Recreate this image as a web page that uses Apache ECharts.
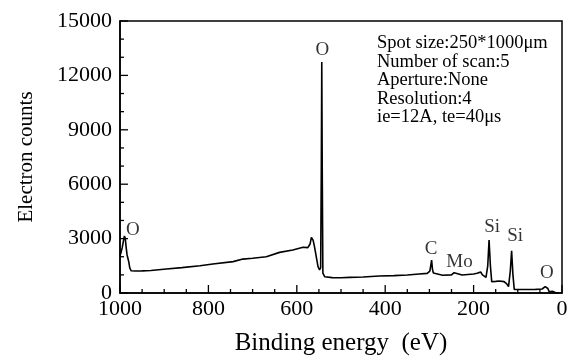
<!DOCTYPE html>
<html><head><meta charset="utf-8">
<script src="https://cdn.jsdelivr.net/npm/echarts@6/dist/echarts.min.js"></script>
<style>html,body{margin:0;padding:0;background:#fff}#c{width:571px;height:358px}</style>
</head><body><div id="c"></div>
<script>
// Binding energy (eV)
const energy = [1000,998,995,992,990,988,986,984,982,980,978,975,965,950,930,895,860,819,790,744,722,700,669,639,609,586,575,570,567,563,560,556,552,548.5,546,544.5,543.5,542.5,541,537,520,500,480,450,413,380,350,323,305,299,297,295,293,291,289,270,250,244,240,226,200,192,184,180,172,168,165,162,159,150,142,131,125,121,117,114,111,108,90,60,45,38,35,32,29,22,18,14,7];
// Electron counts
const counts = [2050,2200,2500,2900,3150,3000,2500,2100,1900,1700,1400,1230,1210,1220,1240,1320,1400,1500,1600,1730,1870,1920,2000,2240,2370,2520,2500,2700,3070,2900,2560,2000,1450,1270,1400,7000,12740,7000,1100,900,850,845,860,880,940,960,990,1050,1080,1200,1500,1820,1300,1100,990,980,1000,1120,1050,990,1050,1085,1160,1000,865,1500,2920,1500,625,640,660,625,500,350,1200,2330,1000,200,190,200,220,350,440,250,70,100,125,10,0];
// Peak labels
const peakNames = ['O','O','C','Mo','Si','Si','O'];
const peakE = [542,971,296,232,158,106,34];
const peakI = [13400,3475,2427,1710,3640,3144,1100];
const xTicks = [0,200,400,600,800,1000];
const yTicks = [0,3000,6000,9000,12000,15000];
const infoLines = ['Spot size:250*1000\u03bcm','Number of scan:5','Aperture:None','Resolution:4','ie=12A, te=40\u03bcs'];

const xMin = xTicks[0], xMax = xTicks[xTicks.length-1];
const yMin = yTicks[0], yMax = yTicks[yTicks.length-1];
// inside tick marks, placed through the axis scales
const tickData = [];
for (let v = xMin; v <= xMax; v += 50) {
  const L = v % 200 === 0 ? 8 : 4;
  tickData.push({value:[v, yMin], symbolSize:[1.3, L], symbolOffset:[0, -L/2]});
}
for (let v = yMin; v <= yMax; v += 1000) {
  const L = v % 3000 === 0 ? 8 : 4;
  tickData.push({value:[xMax, v], symbolSize:[L, 1.3], symbolOffset:[L/2, 0]});
}

const F = '"Liberation Serif","DejaVu Serif",serif';
const chart = echarts.init(document.getElementById('c'));
chart.setOption({
  animation:false,
  backgroundColor:'#fff',
  grid:{left:120,right:9,top:21,bottom:65,containLabel:false,outerBoundsMode:'none',
        show:true,borderColor:'#000',borderWidth:1.5,backgroundColor:'transparent'},
  xAxis:{type:'value',inverse:true,min:xMin,max:xMax,interval:200,
    name:'Binding energy  (eV)',nameLocation:'middle',nameGap:38,
    nameTextStyle:{fontFamily:F,fontSize:25,color:'#000'},
    axisLine:{show:true,onZero:false,lineStyle:{color:'#000',width:1.5}},
    axisTick:{show:false},minorTick:{show:false},splitLine:{show:false},
    axisLabel:{show:true,fontFamily:F,fontSize:22,color:'#000',margin:5,formatter:v=>String(v)}},
  yAxis:{type:'value',min:yMin,max:yMax,interval:3000,
    name:'Electron counts',nameLocation:'middle',nameGap:83,
    nameTextStyle:{fontFamily:F,fontSize:21,color:'#000'},
    axisLine:{show:true,onZero:false,lineStyle:{color:'#000',width:1.5}},
    axisTick:{show:false},minorTick:{show:false},splitLine:{show:false},
    axisLabel:{show:true,fontFamily:F,fontSize:22,color:'#000',margin:8,formatter:v=>String(v)}},
  graphic:[{type:'text',left:377,top:34,style:{text:infoLines.join('\n'),font:'18.5px '+F,fill:'#000',lineHeight:18.5}}],
  series:[
    {type:'line',data:energy.map((e,i)=>[e,counts[i]]),showSymbol:false,symbol:'none',
     lineStyle:{color:'#000',width:1.6},z:3},
    {type:'scatter',data:peakE.map((e,i)=>[e,peakI[i],peakNames[i]]),symbolSize:0,
     label:{show:true,position:'inside',formatter:p=>p.data[2],fontFamily:F,fontSize:19,color:'#000'}},
    {type:'scatter',data:tickData,symbol:'rect',clip:false,silent:true,z:6,
     itemStyle:{color:'#000',opacity:1},emphasis:{disabled:true}}
  ]
});
</script></body></html>
